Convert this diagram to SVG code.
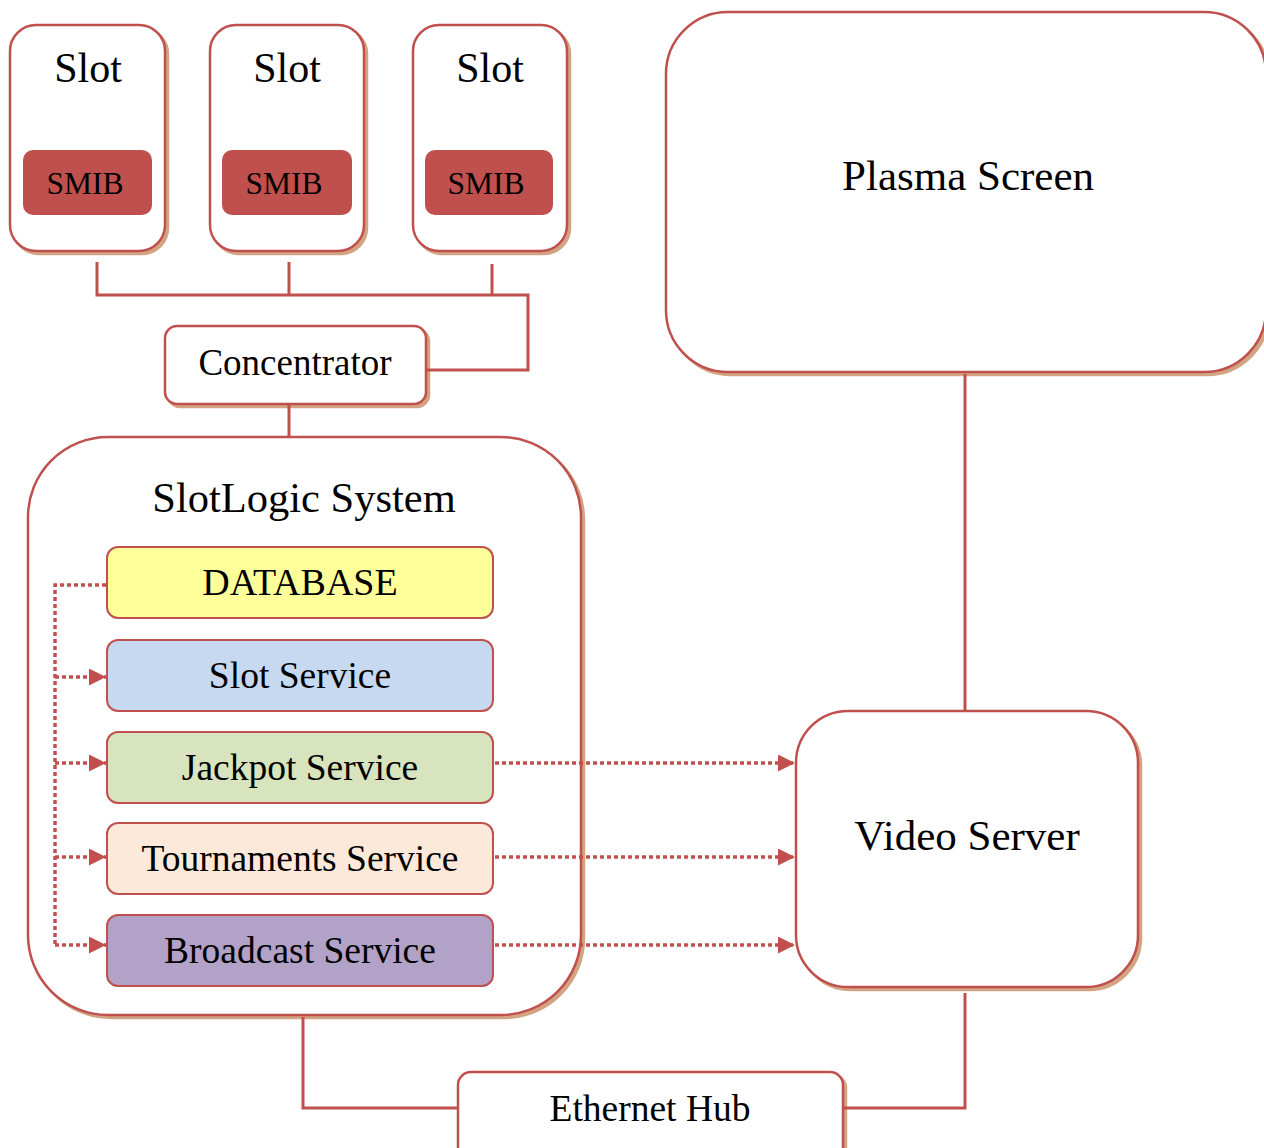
<svg xmlns="http://www.w3.org/2000/svg" width="1264" height="1148" viewBox="0 0 1264 1148">
<defs>
<style>
.box{fill:#ffffff;stroke:#c0504d;stroke-width:2.5}
.shadow{fill:#d2a482;stroke:#d2a482;stroke-width:2.5}
.svc{stroke:#c0504d;stroke-width:2}
.smib{fill:#c0504d}
.t{font-family:"Liberation Serif","Times New Roman",serif;fill:#000;text-anchor:middle}
.line{fill:none;stroke:#c0504d;stroke-width:3}
.dot{fill:none;stroke:#c0504d;stroke-width:3.5;stroke-dasharray:4 3}
</style>
<marker id="arr" viewBox="0 0 10 10" refX="10" refY="5" markerWidth="17" markerHeight="17" markerUnits="userSpaceOnUse" orient="auto">
<path d="M0,0 L10,5 L0,10 z" fill="#c0504d"/>
</marker>
</defs>
<rect width="1264" height="1148" fill="#ffffff"/>

<g id="slot1">
<rect class="shadow" x="13" y="28" width="155" height="226" rx="26"/>
<rect class="box" x="10" y="25" width="155" height="226" rx="26"/>
<text class="t" x="88" y="82" font-size="42">Slot</text>
<rect class="smib" x="23" y="150" width="129" height="65" rx="10"/>
<text class="t" x="85" y="194" font-size="31.5">SMIB</text>
</g>
<g id="slot2">
<rect class="shadow" x="213" y="28" width="154" height="226" rx="26"/>
<rect class="box" x="210" y="25" width="154" height="226" rx="26"/>
<text class="t" x="287" y="82" font-size="42">Slot</text>
<rect class="smib" x="222" y="150" width="130" height="65" rx="10"/>
<text class="t" x="284" y="194" font-size="31.5">SMIB</text>
</g>
<g id="slot3">
<rect class="shadow" x="416" y="28" width="154" height="226" rx="26"/>
<rect class="box" x="413" y="25" width="154" height="226" rx="26"/>
<text class="t" x="490" y="82" font-size="42">Slot</text>
<rect class="smib" x="425" y="150" width="128" height="65" rx="10"/>
<text class="t" x="486" y="194" font-size="31.5">SMIB</text>
</g>

<g id="concentrator">
<rect class="shadow" x="168" y="329" width="261" height="78" rx="12"/>
<rect class="box" x="165" y="326" width="261" height="78" rx="12"/>
<text class="t" x="295" y="375" font-size="37">Concentrator</text>
</g>

<g id="plasma">
<rect class="shadow" x="669" y="15" width="600" height="360" rx="62"/>
<rect class="box" x="666" y="12" width="600" height="360" rx="62"/>
<text class="t" x="968" y="190" font-size="43">Plasma Screen</text>
</g>

<g id="slotlogic">
<rect class="shadow" x="31" y="440" width="553" height="578" rx="80"/>
<rect class="box" x="28" y="437" width="553" height="578" rx="80"/>
<text class="t" x="304" y="512" font-size="42.5">SlotLogic System</text>
</g>

<g id="database">
<rect class="svc" fill="#ffff99" x="107" y="547" width="386" height="71" rx="11"/>
<text class="t" x="300" y="595" font-size="38">DATABASE</text>
</g>
<g id="slotservice">
<rect class="svc" fill="#c6d9f1" x="107" y="640" width="386" height="71" rx="11"/>
<text class="t" x="300" y="688" font-size="37.5">Slot Service</text>
</g>
<g id="jackpot">
<rect class="svc" fill="#d7e4bd" x="107" y="732" width="386" height="71" rx="11"/>
<text class="t" x="300" y="780" font-size="37.5">Jackpot Service</text>
</g>
<g id="tournaments">
<rect class="svc" fill="#fde9d9" x="107" y="823" width="386" height="71" rx="11"/>
<text class="t" x="300" y="871" font-size="37.5">Tournaments Service</text>
</g>
<g id="broadcast">
<rect class="svc" fill="#b2a2c7" x="107" y="915" width="386" height="71" rx="11"/>
<text class="t" x="300" y="963" font-size="37.5">Broadcast Service</text>
</g>

<g id="videoserver">
<rect class="shadow" x="799" y="714" width="342" height="276" rx="52"/>
<rect class="box" x="796" y="711" width="342" height="276" rx="52"/>
<text class="t" x="967" y="850" font-size="43">Video Server</text>
</g>

<g id="ethernethub">
<rect class="shadow" x="461" y="1075" width="385" height="90" rx="13"/>
<rect class="box" x="458" y="1072" width="385" height="90" rx="13"/>
<text class="t" x="650" y="1121" font-size="37.5">Ethernet Hub</text>
</g>

<g id="connectors">
<path class="line" d="M97,262 V295 H528 V370 H427"/>
<path class="line" d="M289,262 V295"/>
<path class="line" d="M492,264 V295"/>
<path class="line" d="M289,405 V436"/>
<path class="line" d="M965,374 V710"/>
<path class="line" d="M965,993 V1108 H844"/>
<path class="line" d="M303,1017 V1108 H457"/>
<path class="dot" d="M106,585 H55 V945"/>
<path class="dot" d="M55,677 H106" marker-end="url(#arr)"/>
<path class="dot" d="M55,763 H106" marker-end="url(#arr)"/>
<path class="dot" d="M55,857 H106" marker-end="url(#arr)"/>
<path class="dot" d="M55,945 H106" marker-end="url(#arr)"/>
<path class="dot" d="M495,763 H795" marker-end="url(#arr)"/>
<path class="dot" d="M495,857 H795" marker-end="url(#arr)"/>
<path class="dot" d="M495,945 H795" marker-end="url(#arr)"/>
</g>
</svg>
